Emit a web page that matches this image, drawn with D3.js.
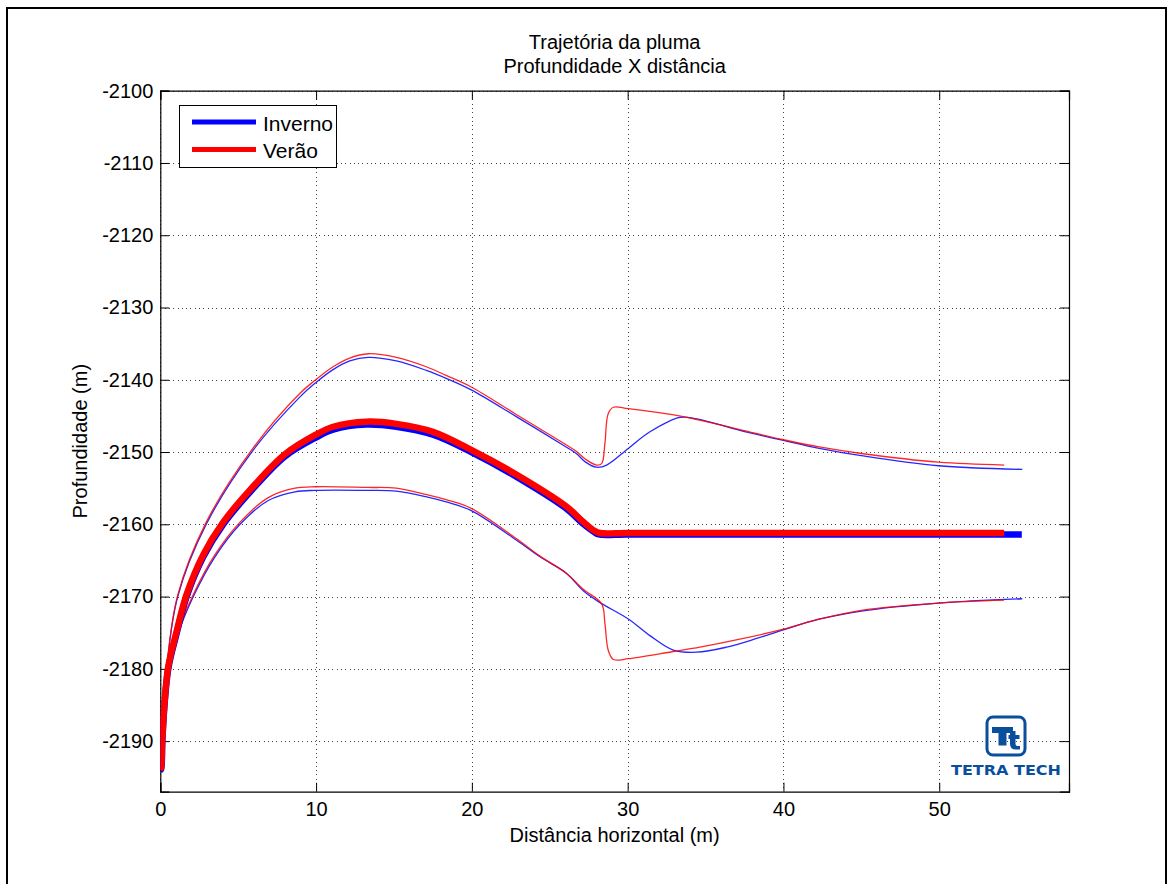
<!DOCTYPE html>
<html><head><meta charset="utf-8">
<script src="https://cdn.jsdelivr.net/npm/d3@7"></script>
<style>
body{margin:0;background:#fff;}
svg{display:block;font-family:"Liberation Sans",Arial,sans-serif;}
</style></head>
<body>
<svg id="chart" width="1172" height="884"></svg>
<script>
// ---- data ----
const title = ["Trajetória da pluma", "Profundidade X distância"];
const xLabel = "Distância horizontal (m)";
const yLabel = "Profundidade (m)";
const seriesNames = ["Inverno", "Verão"];
const seriesColors = ["#0000ff", "#ff0000"];
const xTicks = [0, 10, 20, 30, 40, 50];
const xTickLabels = ["0", "10", "20", "30", "40", "50"];
const yTicks = [-2100, -2110, -2120, -2130, -2140, -2150, -2160, -2170, -2180, -2190];
const yTickLabels = ["-2100", "-2110", "-2120", "-2130", "-2140", "-2150", "-2160", "-2170", "-2180", "-2190"];
const xDomain = [0, 58.33];
const yDomain = [-2197, -2100];

// Inverno centre line
const invCenterX = [0, 0.05, 0.13, 0.26, 0.51, 1.05, 1.69, 2.76, 4.04, 5.86, 8.0, 9.98, 11.09, 13.23, 15.15, 17.5, 19.96, 22.85, 26.05, 27.12, 27.87, 28.15, 30, 35, 45, 55.3];
const invCenterY = [-2194, -2193.9, -2190, -2185.3, -2180, -2175.1, -2170, -2164.5, -2160, -2155.3, -2150.6, -2148.0, -2146.9, -2146.2, -2146.5, -2147.6, -2150.0, -2153.4, -2157.8, -2159.9, -2161.1, -2161.4, -2161.4, -2161.4, -2161.4, -2161.4];
// Verão centre line
const verCenterX = [0, 0.05, 0.13, 0.26, 0.51, 1.05, 1.69, 2.76, 4.04, 5.86, 8.0, 9.98, 11.09, 13.23, 15.15, 17.5, 19.96, 22.85, 26.05, 27.12, 27.87, 28.2, 30, 35, 45, 54.17];
const verCenterY = [-2194, -2193.7, -2189.7, -2185.0, -2179.7, -2174.8, -2169.7, -2164.2, -2159.7, -2155.0, -2150.3, -2147.6, -2146.5, -2145.8, -2146.1, -2147.2, -2149.7, -2153.1, -2157.5, -2159.6, -2160.9, -2161.2, -2161.2, -2161.2, -2161.2, -2161.2];
// Inverno upper boundary
const invUpperX = [0, 0.41, 1.12, 2.95, 5.87, 8.95, 9.98, 11.09, 12.16, 13.35, 15.15, 17.07, 18.35, 19.96, 22.85, 26.05, 26.7, 27.3, 28.0, 28.65, 30.04, 31.43, 33.36, 34.43, 37.2, 40.0, 42.3, 45.0, 49.94, 55.33];
const invUpperY = [-2194, -2180, -2170, -2160, -2150, -2142.4, -2140.4, -2138.6, -2137.4, -2136.9, -2137.4, -2138.7, -2139.8, -2141.4, -2145.1, -2149.3, -2150.2, -2151.4, -2152.1, -2151.8, -2149.5, -2147.2, -2145.2, -2145.4, -2147.0, -2148.4, -2149.5, -2150.5, -2151.9, -2152.4];
// Verão upper boundary
const verUpperX = [0, 0.41, 1.12, 2.95, 5.87, 8.95, 9.98, 11.09, 12.16, 13.35, 15.15, 17.07, 18.35, 19.96, 22.85, 26.05, 26.7, 27.3, 28.0, 28.33, 28.54, 28.75, 29.08, 30.04, 33.57, 37.2, 40.0, 42.3, 45.0, 49.94, 54.17];
const verUpperY = [-2194, -2179.8, -2169.8, -2159.7, -2149.7, -2141.9, -2140.0, -2138.2, -2137.0, -2136.4, -2136.9, -2138.2, -2139.4, -2141.0, -2144.8, -2149.0, -2149.9, -2151.0, -2151.8, -2151.6, -2148.8, -2144.7, -2143.8, -2144.0, -2145.1, -2146.9, -2148.3, -2149.3, -2150.2, -2151.4, -2151.8];
// Inverno lower boundary
const invLowerX = [0, 0.62, 1.16, 2.12, 3.51, 5.12, 6.93, 8.65, 9.99, 13.3, 15.15, 17.1, 18.35, 19.96, 22.87, 24.37, 26.08, 27.15, 28.2, 30.04, 31.43, 32.93, 34.43, 36.35, 38.28, 40.0, 42.34, 45.0, 49.94, 55.33];
const invLowerY = [-2194, -2180, -2175.1, -2170, -2164.5, -2160, -2156.7, -2155.5, -2155.3, -2155.3, -2155.4, -2156.2, -2156.9, -2158.1, -2162.2, -2164.5, -2166.8, -2169.2, -2170.8, -2173.1, -2175.4, -2177.4, -2177.7, -2177.0, -2175.8, -2174.6, -2173.1, -2172.0, -2170.9, -2170.3];
// Verão lower boundary
const verLowerX = [0, 0.62, 1.16, 2.12, 3.51, 5.12, 6.93, 8.65, 9.99, 13.3, 15.15, 17.1, 18.35, 19.96, 22.87, 24.37, 26.08, 27.15, 28.33, 28.54, 28.75, 29.08, 30.04, 32.93, 34.64, 37.2, 40.0, 42.34, 45.0, 49.94, 54.17];
const verLowerY = [-2194, -2179.8, -2174.8, -2169.7, -2164.2, -2159.7, -2156.3, -2155.0, -2154.8, -2154.9, -2155.0, -2155.9, -2156.6, -2157.8, -2162.0, -2164.4, -2166.8, -2169.0, -2171.0, -2173.7, -2177.4, -2178.7, -2178.6, -2177.6, -2177.0, -2175.9, -2174.5, -2173.1, -2171.9, -2170.9, -2170.5];

// ---- layout ----
const svg = d3.select("#chart");
const M = {left: 160.3, top: 90.7, right: 1069, bottom: 791.7};
const x = d3.scaleLinear().domain(xDomain).range([M.left, M.right]);
const y = d3.scaleLinear().domain(yDomain).range([M.bottom, M.top]);
const FONT = 20;

// outer figure border
svg.append("path").attr("d", `M7,884 L7,8 L1166,8 L1166,884`)
  .attr("fill", "none").attr("stroke", "#000").attr("stroke-width", 2);

// plot background
svg.append("rect").attr("x", M.left).attr("y", M.top)
  .attr("width", M.right - M.left).attr("height", M.bottom - M.top).attr("fill", "#fff");

// grid
const grid = svg.append("g").attr("stroke", "#444").attr("stroke-width", 1)
  .attr("stroke-dasharray", "1,3.3").attr("shape-rendering", "crispEdges");
grid.selectAll(".gx").data(xTicks).join("line")
  .attr("x1", d => Math.round(x(d)) + 0.5).attr("x2", d => Math.round(x(d)) + 0.5)
  .attr("y1", M.top).attr("y2", M.bottom);
grid.selectAll(".gy").data(yTicks).join("line")
  .attr("y1", d => Math.round(y(d)) + 0.5).attr("y2", d => Math.round(y(d)) + 0.5)
  .attr("x1", M.left).attr("x2", M.right);

// axes (ticks inward)
const TL = 9;
const axB = svg.append("g").attr("transform", `translate(0,${M.bottom})`)
  .call(d3.axisBottom(x).tickValues(xTicks).tickSize(-TL).tickPadding(10)
    .tickFormat((d, i) => xTickLabels[i]));
const axT = svg.append("g").attr("transform", `translate(0,${M.top})`)
  .call(d3.axisTop(x).tickValues(xTicks).tickSize(-TL).tickFormat(""));
const axL = svg.append("g").attr("transform", `translate(${M.left},0)`)
  .call(d3.axisLeft(y).tickValues(yTicks).tickSize(-TL).tickPadding(7)
    .tickFormat((d, i) => yTickLabels[i]));
const axR = svg.append("g").attr("transform", `translate(${M.right},0)`)
  .call(d3.axisRight(y).tickValues(yTicks).tickSize(-TL).tickFormat(""));
[axB, axT, axL, axR].forEach(a => {
  a.select(".domain").attr("stroke", "#000").attr("stroke-width", 1.2);
  a.selectAll(".tick line").attr("stroke", "#000");
  a.selectAll("text").attr("font-size", FONT).attr("fill", "#000")
    .attr("font-family", "Liberation Sans, Arial, sans-serif");
});

// lines
const line = d3.line().x(d => x(d[0])).y(d => y(d[1])).curve(d3.curveCatmullRom.alpha(0.5));
const zip = (a, b) => a.map((v, i) => [v, b[i]]);
svg.append("clipPath").attr("id", "clip").append("rect")
  .attr("x", M.left).attr("y", M.top).attr("width", M.right - M.left).attr("height", M.bottom - M.top);
const plot = svg.append("g").attr("clip-path", "url(#clip)");

const thin = [
  [invUpperX, invUpperY, 0], [invLowerX, invLowerY, 0],
  [verUpperX, verUpperY, 1], [verLowerX, verLowerY, 1]
];
plot.selectAll(".thin").data(thin).join("path")
  .attr("d", d => line(zip(d[0], d[1])))
  .attr("fill", "none").attr("stroke", d => seriesColors[d[2]])
  .attr("stroke-width", 1.3).attr("stroke-opacity", 0.85);

const thick = [[invCenterX, invCenterY, 0], [verCenterX, verCenterY, 1]];
plot.selectAll(".thick").data(thick).join("path")
  .attr("d", d => line(zip(d[0], d[1])))
  .attr("fill", "none").attr("stroke", d => seriesColors[d[2]])
  .attr("stroke-width", 6.5).attr("stroke-linejoin", "round");

// title
svg.append("text").attr("x", (M.left + M.right) / 2).attr("y", 49)
  .attr("text-anchor", "middle").attr("font-size", FONT).text(title[0]);
svg.append("text").attr("x", (M.left + M.right) / 2).attr("y", 73)
  .attr("text-anchor", "middle").attr("font-size", FONT).text(title[1]);

// axis labels
svg.append("text").attr("x", (M.left + M.right) / 2).attr("y", 842)
  .attr("text-anchor", "middle").attr("font-size", FONT).text(xLabel);
svg.append("text").attr("transform", `translate(87,${(M.top + M.bottom) / 2}) rotate(-90)`)
  .attr("text-anchor", "middle").attr("font-size", FONT).text(yLabel);

// legend
const lg = svg.append("g");
lg.append("rect").attr("x", 179.5).attr("y", 105.5).attr("width", 157).attr("height", 62)
  .attr("fill", "#fff").attr("stroke", "#000").attr("stroke-width", 1);
seriesNames.forEach((n, i) => {
  const yy = 122 + i * 27.5;
  lg.append("line").attr("x1", 192).attr("x2", 256).attr("y1", yy).attr("y2", yy)
    .attr("stroke", seriesColors[i]).attr("stroke-width", 5);
  lg.append("text").attr("x", 263).attr("y", yy + 8.5).attr("font-size", FONT + 1).text(n);
});

// logo
const logoColor = "#0a4f9c";
const logo = svg.append("g");
logo.append("rect").attr("x", 987).attr("y", 717).attr("width", 38).attr("height", 38)
  .attr("rx", 6).attr("fill", "none").attr("stroke", logoColor).attr("stroke-width", 3);
logo.append("path").attr("fill", logoColor)
  .attr("d", "M992,727 h21 v6 h-6.5 v12.5 h-8 v-12.5 h-6.5 z " +
             "M1010,731 h5.5 v4 h4 v4 h-4 v5 q0,2 2,2 h2.5 v3.5 h-4 q-6,0 -6,-5.5 v-5 h-1.5 v-4 h1.5 z");
logo.append("text").attr("x", 1006).attr("y", 774.5).attr("text-anchor", "middle")
  .attr("font-family", "DejaVu Sans, sans-serif").attr("font-weight", "bold")
  .attr("font-size", 14.5).attr("fill", logoColor)
  .attr("textLength", 110).attr("lengthAdjust", "spacingAndGlyphs").text("TETRA TECH");
</script>
</body></html>
